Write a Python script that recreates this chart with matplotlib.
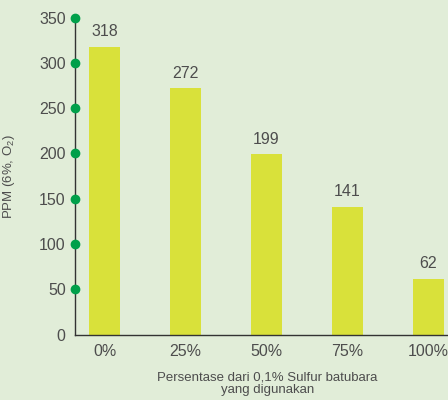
import matplotlib
matplotlib.use("Agg")
import matplotlib.pyplot as plt

categories = ["0%", "25%", "50%", "75%", "100%"]
values = [318, 272, 199, 141, 62]
yticks = [0, 50, 100, 150, 200, 250, 300, 350]

bg = "#e1edd8"
bar_color = "#d9e13a"
text_color = "#4d4d4d"
dot_color = "#00a04a"

plt.rcParams["font.family"] = ["Liberation Sans", "DejaVu Sans"]
plt.rcParams["mathtext.fontset"] = "custom"
plt.rcParams["mathtext.rm"] = "Liberation Sans"

fig = plt.figure(figsize=(4.48, 4.0), dpi=100, facecolor=bg)
ax = fig.add_axes([74.7 / 448, 1 - 334.7 / 400, 1 - 74.7 / 448, (334.7 - 17.5) / 400])
ax.set_facecolor(bg)

x = list(range(len(categories)))
bars = ax.bar(x, values, width=0.383, color=bar_color, zorder=2)
for xi, v in zip(x, values):
    ax.annotate(str(v), (xi, v), xytext=(0, 5.5), textcoords="offset points",
                ha="center", va="bottom", fontsize=11.5, color=text_color)

ax.set_xlim(-0.368, 4.241)
ax.set_ylim(0, 350)
ax.set_xticks(x)
ax.set_xticklabels(categories, fontsize=11.5, color=text_color)
ax.set_yticks(yticks)
ax.set_yticklabels([str(t) for t in yticks], fontsize=11.5, color=text_color)
ax.tick_params(axis="both", length=0)
ax.tick_params(axis="y", pad=6.5)
ax.tick_params(axis="x", pad=7)

for s in ["top", "right"]:
    ax.spines[s].set_visible(False)
for s in ["left", "bottom"]:
    ax.spines[s].set_color("#333333")
    ax.spines[s].set_linewidth(1.0)

# green dots on the y axis at ticks
ax.plot([ax.get_xlim()[0]] * (len(yticks) - 1), yticks[1:], "o", color=dot_color,
        markersize=6, clip_on=False, zorder=5)

ax.set_ylabel("PPM (6%, O$_\\mathregular{2}$)", fontsize=9.5, color=text_color)
ax.yaxis.set_label_coords(-(74.7 - 17) / 373.3, 0.5)
ax.set_xlabel("Persentase dari 0,1% Sulfur batubara\nyang digunakan", fontsize=9.5,
              color=text_color, linespacing=1.0)
ax.xaxis.set_label_coords((267.5 - 74.7) / 373.3, -(383.5 - 334.7) / 317.2)
ax.xaxis.label.set_va("center")

fig.savefig("out.png", dpi=100, facecolor=bg)
